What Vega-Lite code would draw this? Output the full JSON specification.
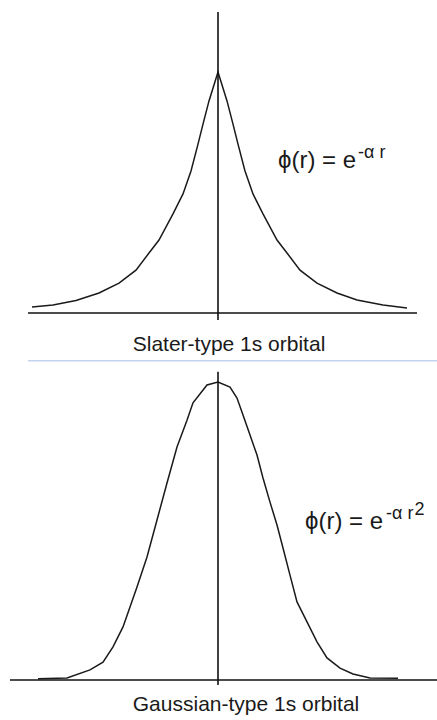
{
  "$schema": "https://vega.github.io/schema/vega-lite/v6.json",
  "padding": 0,
  "spacing": 0,
  "background": "white",
  "config": {
    "view": {"stroke": null},
    "axis": {"disable": true},
    "text": {"font": "Liberation Sans", "color": "#1a1a1a"}
  },
  "vconcat": [
    {
      "width": 437,
      "height": 360,
      "layer": [
        {
          "data": {"values": [
            {"r": -3.72, "phi": 0.025},
            {"r": -3.30, "phi": 0.033},
            {"r": -2.84, "phi": 0.052},
            {"r": -2.38, "phi": 0.083},
            {"r": -1.98, "phi": 0.124},
            {"r": -1.64, "phi": 0.178},
            {"r": -1.38, "phi": 0.249},
            {"r": -1.18, "phi": 0.303},
            {"r": -0.90, "phi": 0.411},
            {"r": -0.70, "phi": 0.494},
            {"r": -0.54, "phi": 0.589},
            {"r": -0.40, "phi": 0.701},
            {"r": -0.30, "phi": 0.784},
            {"r": -0.18, "phi": 0.880},
            {"r": 0.0, "phi": 1.0},
            {"r": 0.18, "phi": 0.880},
            {"r": 0.30, "phi": 0.784},
            {"r": 0.40, "phi": 0.701},
            {"r": 0.54, "phi": 0.589},
            {"r": 0.70, "phi": 0.494},
            {"r": 0.90, "phi": 0.411},
            {"r": 1.18, "phi": 0.303},
            {"r": 1.38, "phi": 0.249},
            {"r": 1.64, "phi": 0.178},
            {"r": 1.98, "phi": 0.124},
            {"r": 2.38, "phi": 0.083},
            {"r": 2.78, "phi": 0.054},
            {"r": 3.30, "phi": 0.033},
            {"r": 3.78, "phi": 0.021}
          ]},
          "mark": {"type": "line", "color": "#1a1a1a", "strokeWidth": 1.5},
          "encoding": {
            "x": {"field": "r", "type": "quantitative", "scale": {"domain": [-4.36, 4.38], "nice": false, "zero": false}},
            "y": {"field": "phi", "type": "quantitative", "scale": {"domain": [-0.195, 1.2988], "nice": false, "zero": false}}
          }
        },
        {
          "data": {"values": [{}]},
          "mark": {"type": "rule", "color": "#111111", "strokeWidth": 1.6},
          "encoding": {
            "x": {"datum": -3.8},
            "x2": {"datum": 3.98},
            "y": {"datum": 0}
          }
        },
        {
          "data": {"values": [{}]},
          "mark": {"type": "rule", "color": "#111111", "strokeWidth": 1.6},
          "encoding": {
            "x": {"datum": 0},
            "y": {"datum": -0.029},
            "y2": {"datum": 1.249}
          }
        },
        {
          "data": {"values": [{}]},
          "mark": {"type": "text", "align": "left", "baseline": "alphabetic", "fontSize": 24},
          "encoding": {
            "x": {"datum": 1.2},
            "y": {"datum": 0.6},
            "text": {"value": "ϕ(r) = e"}
          }
        },
        {
          "data": {"values": [{}]},
          "mark": {"type": "text", "align": "left", "baseline": "alphabetic", "fontSize": 18},
          "encoding": {
            "x": {"datum": 2.8},
            "y": {"datum": 0.643},
            "text": {"value": "-α r"}
          }
        },
        {
          "data": {"values": [{}]},
          "mark": {"type": "text", "align": "center", "baseline": "middle", "fontSize": 21},
          "encoding": {
            "x": {"datum": 0.22},
            "y": {"datum": -0.133},
            "text": {"value": "Slater-type 1s orbital"}
          }
        }
      ]
    },
    {
      "width": 437,
      "height": 360,
      "layer": [
        {
          "data": {"values": [
            {"r": -3.60, "phi": 0.004},
            {"r": -3.02, "phi": 0.007},
            {"r": -2.56, "phi": 0.034},
            {"r": -2.30, "phi": 0.060},
            {"r": -2.10, "phi": 0.111},
            {"r": -1.90, "phi": 0.178},
            {"r": -1.76, "phi": 0.245},
            {"r": -1.62, "phi": 0.312},
            {"r": -1.42, "phi": 0.413},
            {"r": -1.22, "phi": 0.537},
            {"r": -1.02, "phi": 0.661},
            {"r": -0.82, "phi": 0.782},
            {"r": -0.62, "phi": 0.872},
            {"r": -0.50, "phi": 0.930},
            {"r": -0.22, "phi": 0.990},
            {"r": 0.0, "phi": 1.0},
            {"r": 0.24, "phi": 0.983},
            {"r": 0.38, "phi": 0.946},
            {"r": 0.50, "phi": 0.889},
            {"r": 0.64, "phi": 0.822},
            {"r": 0.78, "phi": 0.755},
            {"r": 0.90, "phi": 0.678},
            {"r": 1.04, "phi": 0.597},
            {"r": 1.18, "phi": 0.520},
            {"r": 1.30, "phi": 0.443},
            {"r": 1.44, "phi": 0.352},
            {"r": 1.58, "phi": 0.262},
            {"r": 1.78, "phi": 0.195},
            {"r": 1.98, "phi": 0.128},
            {"r": 2.18, "phi": 0.074},
            {"r": 2.44, "phi": 0.040},
            {"r": 2.70, "phi": 0.020},
            {"r": 3.04, "phi": 0.007},
            {"r": 3.60, "phi": 0.006}
          ]},
          "mark": {"type": "line", "color": "#1a1a1a", "strokeWidth": 1.5},
          "encoding": {
            "x": {"field": "r", "type": "quantitative", "scale": {"domain": [-4.36, 4.38], "nice": false, "zero": false}},
            "y": {"field": "phi", "type": "quantitative", "scale": {"domain": [-0.1342, 1.0738], "nice": false, "zero": false}}
          }
        },
        {
          "data": {"values": [{}]},
          "mark": {"type": "rule", "color": "#c4d4ee", "strokeWidth": 1.5},
          "encoding": {
            "x": {"datum": -3.8},
            "x2": {"datum": 4.38},
            "y": {"datum": 1.071}
          }
        },
        {
          "data": {"values": [{}]},
          "mark": {"type": "rule", "color": "#111111", "strokeWidth": 1.6},
          "encoding": {
            "x": {"datum": -4.16},
            "x2": {"datum": 4.38},
            "y": {"datum": 0}
          }
        },
        {
          "data": {"values": [{}]},
          "mark": {"type": "rule", "color": "#111111", "strokeWidth": 1.6},
          "encoding": {
            "x": {"datum": 0},
            "y": {"datum": -0.017},
            "y2": {"datum": 1.034}
          }
        },
        {
          "data": {"values": [{}]},
          "mark": {"type": "text", "align": "left", "baseline": "alphabetic", "fontSize": 24},
          "encoding": {
            "x": {"datum": 1.74},
            "y": {"datum": 0.507},
            "text": {"value": "ϕ(r) = e"}
          }
        },
        {
          "data": {"values": [{}]},
          "mark": {"type": "text", "align": "left", "baseline": "alphabetic", "fontSize": 18},
          "encoding": {
            "x": {"datum": 3.36},
            "y": {"datum": 0.54},
            "text": {"value": "-α r"}
          }
        },
        {
          "data": {"values": [{}]},
          "mark": {"type": "text", "align": "left", "baseline": "alphabetic", "fontSize": 18},
          "encoding": {
            "x": {"datum": 3.93},
            "y": {"datum": 0.553},
            "text": {"value": "2"}
          }
        },
        {
          "data": {"values": [{}]},
          "mark": {"type": "text", "align": "center", "baseline": "middle", "fontSize": 21},
          "encoding": {
            "x": {"datum": 0.56},
            "y": {"datum": -0.084},
            "text": {"value": "Gaussian-type 1s orbital"}
          }
        }
      ]
    }
  ]
}
